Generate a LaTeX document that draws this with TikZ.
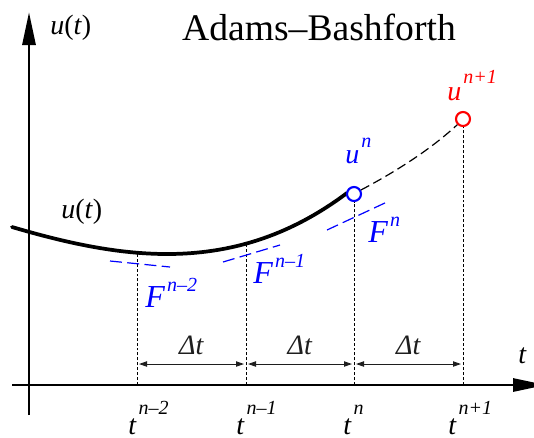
\documentclass[tikz,border=0pt]{standalone}
\usepackage{fontspec}
\setmainfont{Liberation Serif}
\usepackage{tikz}
\usetikzlibrary{arrows.meta, positioning}
\definecolor{mydark}{RGB}{30,30,30}
\definecolor{myblue}{RGB}{0,0,255}
\definecolor{myred}{RGB}{255,0,0}
\newcommand{\lblfont}{\fontsize{21}{21}\selectfont}
\newcommand{\bigfont}{\fontsize{24}{24}\selectfont}
\newcommand{\supr}[2]{\kern1.5pt\raisebox{#1}{\fontsize{15}{15}\selectfont\itshape #2}}
\tikzset{
  axis/.style={line width=2.2pt, -{Triangle[length=24.75pt,width=9.75pt]}},
  solution/.style={line width=2.8pt, line cap=round},
  extrap/.style={line width=0.9pt, dash pattern=on 7pt off 3.5pt},
  slope/.style={myblue, line width=0.9pt, dash pattern=on 9pt off 4pt},
  guide/.style={line width=0.6pt, dash pattern=on 2.2pt off 1.5pt},
  dimarrow/.style={line width=0.7pt, color=mydark,
    {Triangle[length=6pt,width=4pt]}-{Triangle[length=6pt,width=4pt]}},
  ptmark/.style={circle, draw, line width=1.6pt, fill=white,
    minimum size=10.5pt, inner sep=0pt},
  lbl/.style={anchor=base west, inner sep=0pt, font=\lblfont},
  dtlbl/.style={midway, above=6.5pt, inner sep=0pt, font=\lblfont}
}

\begin{document}
\begin{tikzpicture}[x=0.75pt, y=-0.75pt]
  \useasboundingbox (0,0) rectangle (534,437);

  % Axes
  \draw[axis] (29,415) -- (29,12);
  \draw[axis] (12,385) -- (546,385);
  \node[lbl] (ulab) at (50,34) {\textit{u}(\textit{t})};
  \node[lbl] (tlab) at (518,363) {\textit{t}};

  % Title
  \node[anchor=base, inner sep=0pt, font=\fontsize{28.2}{28.2}\selectfont]
    (title) at (319,40) {Adams--Bashforth};

  % Solution u(t), s = (x-167)/100
  \draw[solution] plot[domain=12:347, samples=70]
    (\x, {254 - 14.75*((\x-167)/100)^2 - 2.266*((\x-167)/100)^3});
  \node[lbl] (ucurve) at (61,218) {\textit{u}(\textit{t})};

  % Time levels on the axis
  \coordinate (tnm2) at (137,385);
  \coordinate (tnm1) at (246,385);
  \coordinate (tn)   at (354,385);
  \coordinate (tnp1) at (463,385);

  % Points on the curve
  \coordinate (cnm2) at (137,253);
  \coordinate (cnm1) at (246,244);
  \node[ptmark, draw=myblue] (un)  at (354,194) {};
  \node[ptmark, draw=myred]  (unp) at (463,119) {};

  % Extrapolated step
  \draw[extrap] (un.30) .. controls (395,172) and (430,150) .. (unp.225);

  % Guides down to the axis
  \draw[guide] (tnm2) -- (cnm2);
  \draw[guide] (tnm1) -- (cnm1);
  \draw[guide] (tn) -- (un.south);
  \draw[guide] (tnp1) -- (unp.south);

  % Slopes F
  \draw[slope] (110,261) -- (170,267);
  \draw[slope] (223,262) -- (280,245);
  \draw[slope] (327,230) -- (387,202);
  \node[lbl, font=\bigfont, myblue] (fnm2) at (145,307) {\textit{F}\supr{11.5pt}{n--2}};
  \node[lbl, font=\bigfont, myblue] (fnm1) at (253,283) {\textit{F}\supr{11.5pt}{n--1}};
  \node[lbl, font=\bigfont, myblue] (fn)   at (368,242) {\textit{F}\supr{11.5pt}{n}};

  % Point labels
  \node[lbl, myblue] (unlab)  at (345,163) {\textit{u}\supr{12pt}{n}};
  \node[lbl, myred]  (unplab) at (447,100) {\textit{u}\supr{12.5pt}{n+1}};

  % Time step arrows
  \coordinate (dnm2) at (137,364);
  \coordinate (dnm1) at (246,364);
  \coordinate (dn)   at (354,364);
  \coordinate (dnp1) at (463,364);
  \draw[dimarrow] ([xshift=1.5pt]dnm2) -- node[dtlbl] {\textit{Δt}} ([xshift=-1.5pt]dnm1);
  \draw[dimarrow] ([xshift=1.5pt]dnm1) -- node[dtlbl] {\textit{Δt}} ([xshift=-1.5pt]dn);
  \draw[dimarrow] ([xshift=1.5pt]dn) -- node[dtlbl] {\textit{Δt}} ([xshift=-1.5pt]dnp1);

  % Time labels
  \node[lbl] (lnm2) at (128,434) {\textit{t}\supr{15pt}{n--2}};
  \node[lbl] (lnm1) at (236,434) {\textit{t}\supr{15pt}{n--1}};
  \node[lbl] (ln)   at (343,434) {\textit{t}\supr{15pt}{n}};
  \node[lbl] (lnp1) at (448,434) {\textit{t}\supr{15pt}{n+1}};
\end{tikzpicture}
\end{document}
